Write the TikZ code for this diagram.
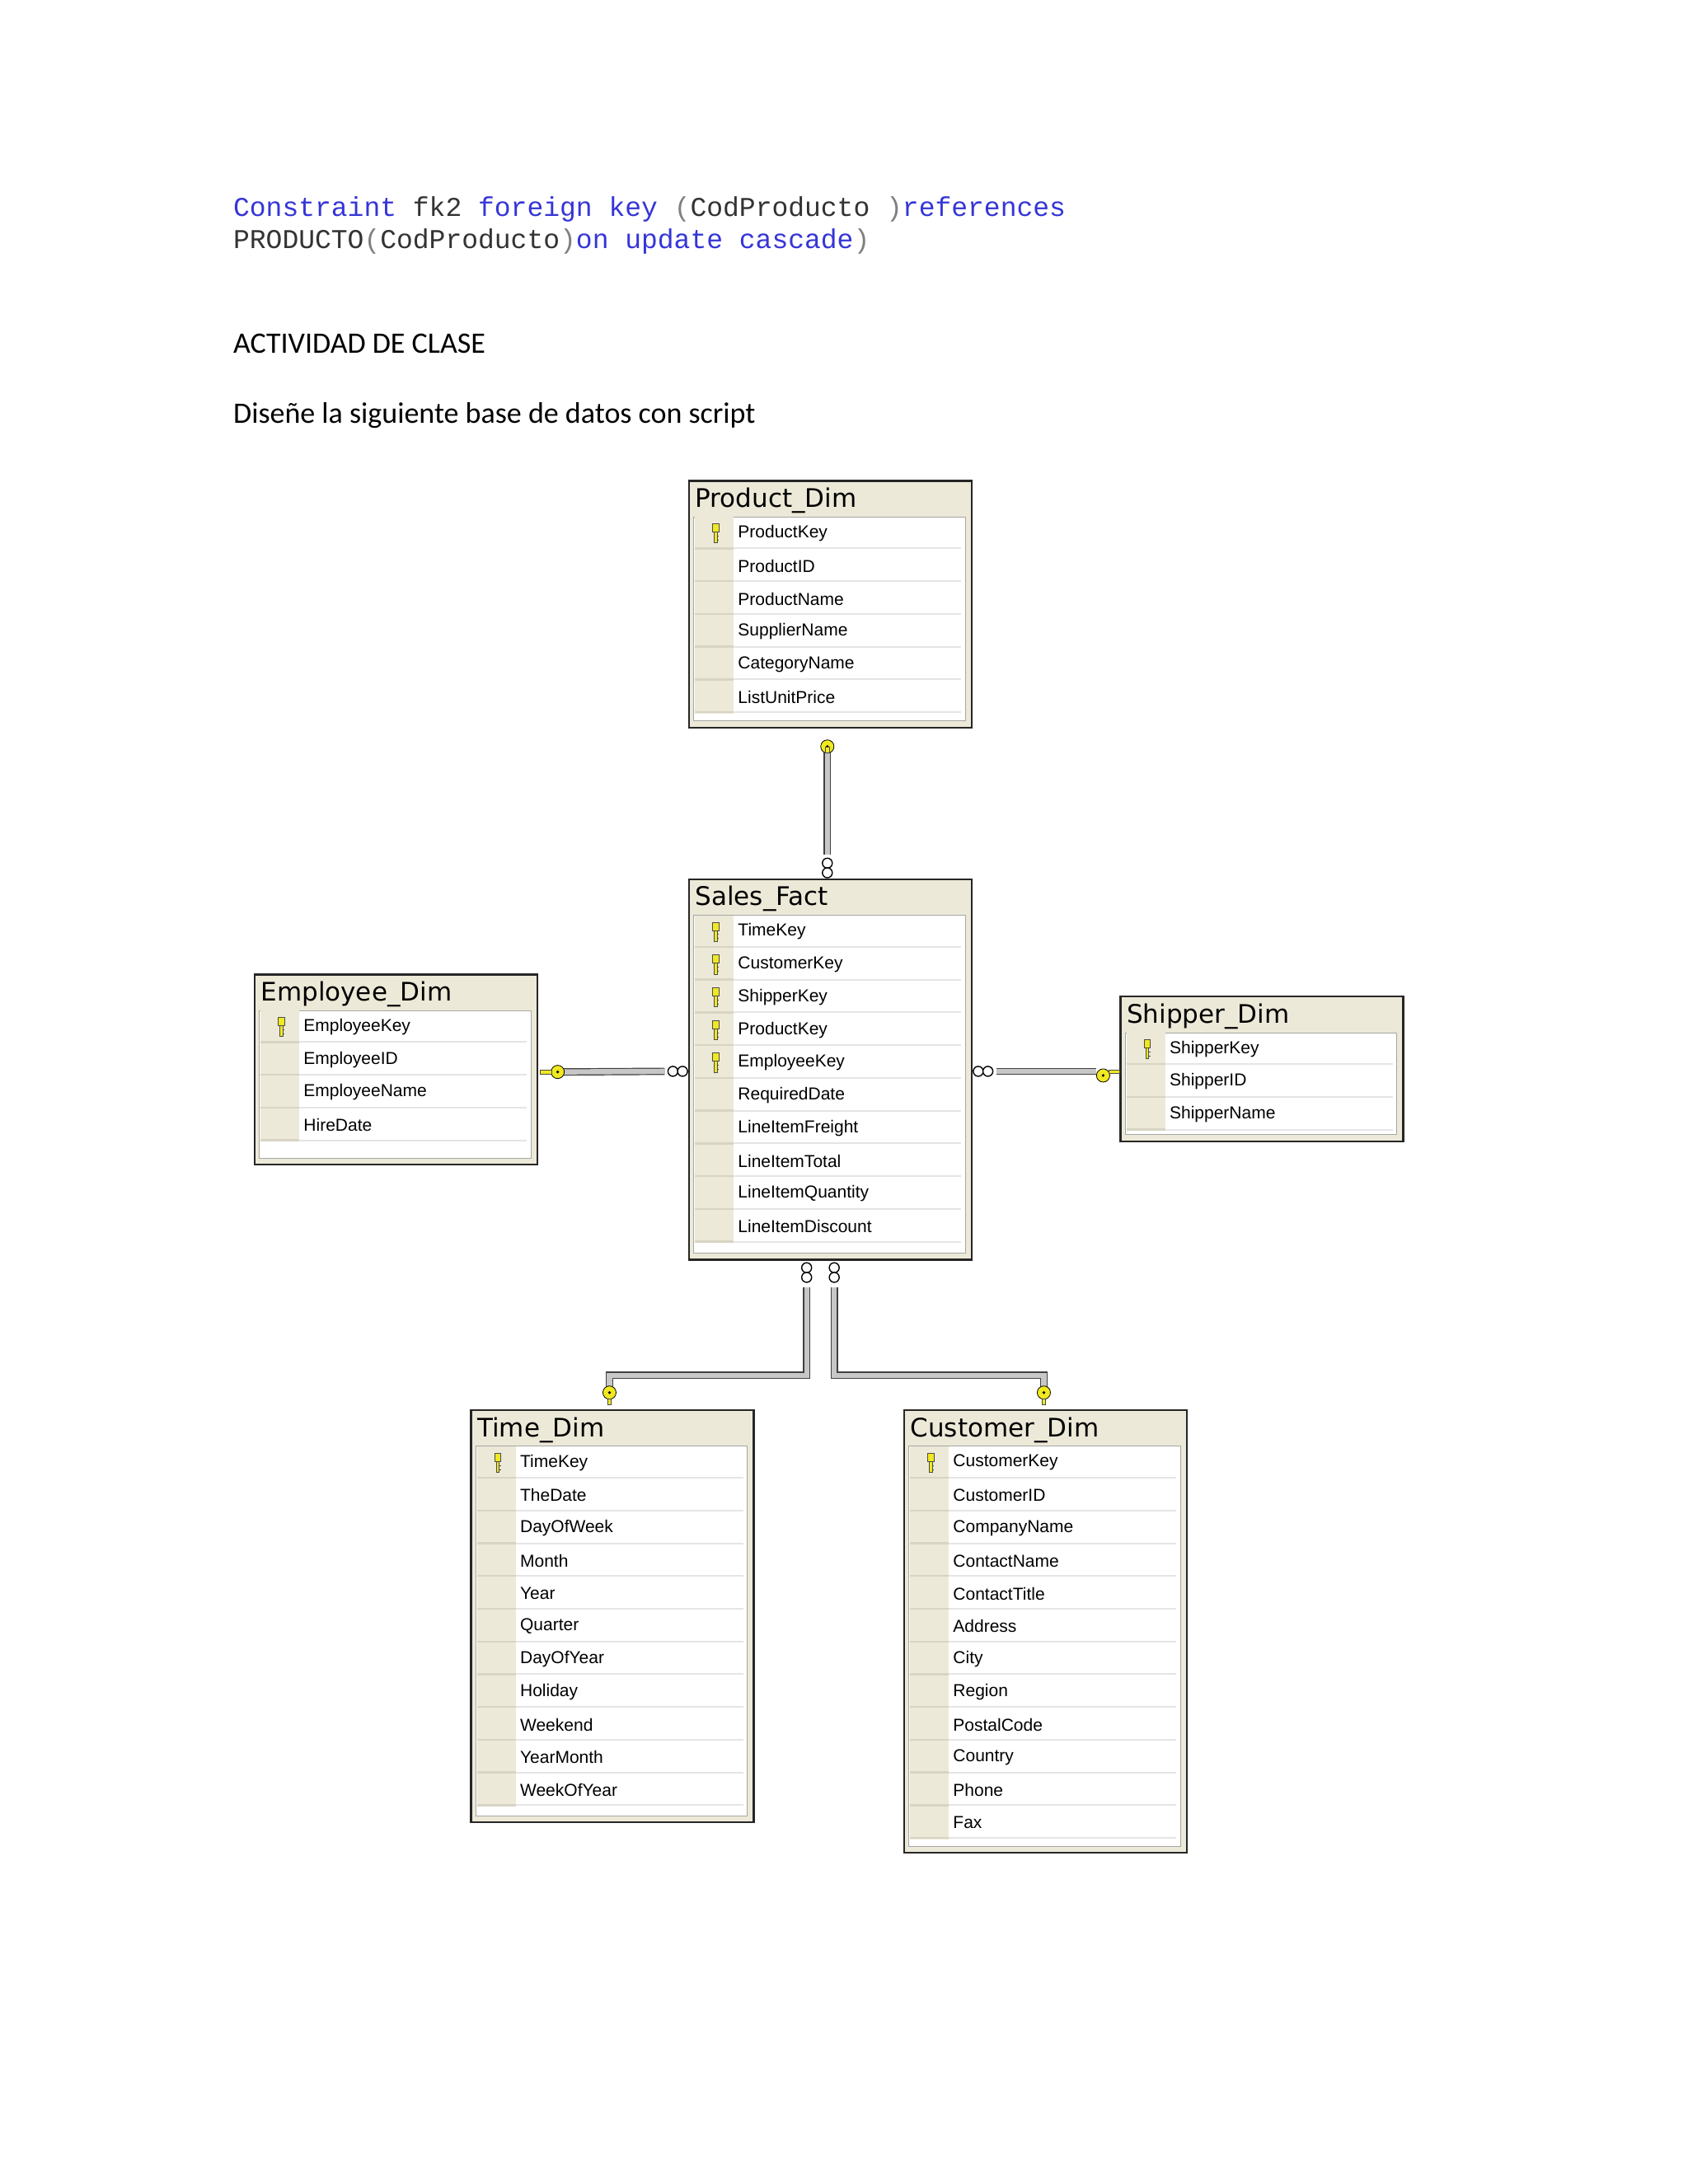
\documentclass[tikz,border=0pt]{standalone}
\usepackage{fontspec}
\setmainfont{Liberation Sans}
\newfontfamily\monof{Liberation Mono}
\newfontfamily\calf{Carlito}
\newfontfamily\titf{DejaVu Sans}
\definecolor{kw}{HTML}{3535D8}
\definecolor{gr}{HTML}{808080}
\definecolor{beige}{HTML}{ECE9D8}
\definecolor{gut}{HTML}{D8D4C4}
\definecolor{keyy}{HTML}{F0E820}
\tikzset{
  tbox/.style={draw=black!85, line width=1.2pt, fill=beige, inner sep=0pt, minimum width=205*0.8366pt, anchor=north west},
  rel/.style={draw=black!75, line width=0.6pt, double=black!22, double distance=3.2pt},
  crow/.style={draw=black, line width=0.7pt, fill=white},
  rowtxt/.style={anchor=west, inner sep=0pt, font=\fontsize{10.5}{12}\selectfont},
  tittxt/.style={anchor=west, inner sep=0pt, font=\titf\fontsize{15.5}{17}\selectfont},
}
\newcommand\keyic[2]{%
  \fill[keyy, draw=black!70, line width=0.3pt] (#1-2.2,#2-7) rectangle (#1+2.2,#2-1);
  \fill[keyy, draw=black!70, line width=0.3pt] (#1-1,#2-1) rectangle (#1+1,#2+7);
  \draw[black!70, line width=0.4pt] (#1+1,#2+2) -- (#1+2.5,#2+2) (#1+1,#2+5) -- (#1+2.5,#2+5);
}
\newcommand\mytable[7]{%
  \node[tbox, minimum height=#4*0.8366pt] (#1) at (#2,#3) {};
  \fill[white] (#2+4,#3+27) rectangle (#2+201,#3+#4-4);
  \draw[black!35, line width=0.5pt] (#2+4,#3+27) rectangle (#2+201,#3+#4-4);
  \node[tittxt] at (#2+5,#3+15) {#5};
  \foreach \f [count=\i] in {#7} {
    \fill[beige] (#2+5,#3+27+\i*23.75-23.75) rectangle (#2+33,#3+27+\i*23.75);
    \draw[gut, line width=1.2pt] (#2+5,#3+27+\i*23.75-1) -- (#2+33,#3+27+\i*23.75-1);
    \draw[black!10, line width=1pt] (#2+33,#3+27+\i*23.75-1) -- (#2+198,#3+27+\i*23.75-1);
    \node[rowtxt] at (#2+36,#3+27+\i*23.75-12) {\f};
    \ifnum\i>#6\else \keyic{#2+20}{#3+27+\i*23.75-12}\fi
  }
}
\begin{document}
\begin{tikzpicture}[x=0.8366pt,y=-0.8366pt]
\useasboundingbox[fill=white] (0,0) rectangle (1224,1584);
\node[anchor=base west, inner sep=0pt, font=\monof\fontsize{16.5}{20}\selectfont, text=black!80] (l1) at (169,157)
 {\textcolor{kw}{Constraint} fk2 \textcolor{kw}{foreign key} \textcolor{gr}{(}CodProducto \textcolor{gr}{)}\textcolor{kw}{references}};
\node[anchor=base west, inner sep=0pt, font=\monof\fontsize{16.5}{20}\selectfont, text=black!80] (l2) at (169,180)
 {PRODUCTO\textcolor{gr}{(}CodProducto\textcolor{gr}{)}\textcolor{kw}{on update cascade}\textcolor{gr}{)}};
\node[anchor=base west, inner sep=0pt, font=\calf\fontsize{18}{22}\selectfont] (act) at (169,256) {ACTIVIDAD DE CLASE};
\node[anchor=base west, inner sep=0pt, font=\calf\fontsize{18}{22}\selectfont] (dis) at (169,307) {Diseñe la siguiente base de datos con script};

\mytable{prod}{499}{348}{179}{Product\_Dim}{1}{ProductKey,ProductID,ProductName,SupplierName,CategoryName,ListUnitPrice}
\mytable{sales}{499}{637}{276}{Sales\_Fact}{5}{TimeKey,CustomerKey,ShipperKey,ProductKey,EmployeeKey,RequiredDate,LineItemFreight,LineItemTotal,LineItemQuantity,LineItemDiscount}
\mytable{emp}{184}{706}{138}{Employee\_Dim}{1}{EmployeeKey,EmployeeID,EmployeeName,HireDate}
\mytable{ship}{812}{722}{105}{Shipper\_Dim}{1}{ShipperKey,ShipperID,ShipperName}
\mytable{time}{341}{1022}{299}{Time\_Dim}{1}{TimeKey,TheDate,DayOfWeek,Month,Year,Quarter,DayOfYear,Holiday,Weekend,YearMonth,WeekOfYear}
\mytable{cust}{655}{1022}{321}{Customer\_Dim}{1}{CustomerKey,CustomerID,CompanyName,ContactName,ContactTitle,Address,City,Region,PostalCode,Country,Phone,Fax}

\coordinate (pa) at ([shift={(101,0)}]prod.south west);
\coordinate (sa) at ([shift={(101,0)}]sales.north west);
\draw[rel] ([shift={(0,16)}]pa) -- ([shift={(0,-17)}]sa);
\coordinate (ea) at ([shift={(0,-71)}]emp.south east);
\coordinate (se) at ([shift={(0,140)}]sales.north west);
\draw[rel] ([shift={(18,3)}]ea) -- ([shift={(-17,0)}]se);
\coordinate (ss) at ([shift={(0,140)}]sales.north east);
\coordinate (sh) at ([shift={(0,55)}]ship.north west);
\draw[rel] ([shift={(17,0)}]ss) -- ([shift={(-17,0)}]sh);
\coordinate (st) at ([shift={(86,0)}]sales.south west);
\coordinate (tt) at ([shift={(101,0)}]time.north west);
\draw[rel] ([shift={(0,19)}]st) -- ([shift={(0,83)}]st) -| ([shift={(0,-16)}]tt);
\coordinate (sc) at ([shift={(106,0)}]sales.south west);
\coordinate (ct) at ([shift={(102,0)}]cust.north west);
\draw[rel] ([shift={(0,19)}]sc) -- ([shift={(0,83)}]sc) -| ([shift={(0,-16)}]ct);
\foreach \c/\dx/\dy in {sa/0/-11, sa/0/-4, st/0/5, st/0/12, sc/0/5, sc/0/12, se/-11/0, se/-4/0, ss/4/0, ss/11/0}
  \draw[crow] ([shift={(\dx,\dy)}]\c) circle (3.6);
\foreach \c/\dx/\dy in {pa/0/13, tt/0/-12, ct/0/-12}{
  \fill[keyy, draw=black, line width=0.4pt] ([shift={(\dx,\dy)}]\c) circle (4.8);
  \fill[black] ([shift={(\dx,\dy)}]\c) circle (1.1);
  \fill[keyy, draw=black!70, line width=0.3pt] ([shift={(\dx-1.2,\dy+4.5*(\dy<0)-9*(\dy>0))}]\c) rectangle ++(2.4,4.5);
}
\foreach \c/\dx in {ea/14, sh/-12}{
  \fill[keyy, draw=black, line width=0.4pt] ([shift={(\dx,3)}]\c) circle (4.8);
  \fill[black] ([shift={(\dx,3)}]\c) circle (1.1);
}
\fill[keyy, draw=black!70, line width=0.3pt] ([shift={(1,1.5)}]ea) rectangle ++(8.5,2.8);
\fill[keyy, draw=black!70, line width=0.3pt] ([shift={(-8,-1.2)}]sh) rectangle ++(8,2.8);
\end{tikzpicture}
\end{document}
